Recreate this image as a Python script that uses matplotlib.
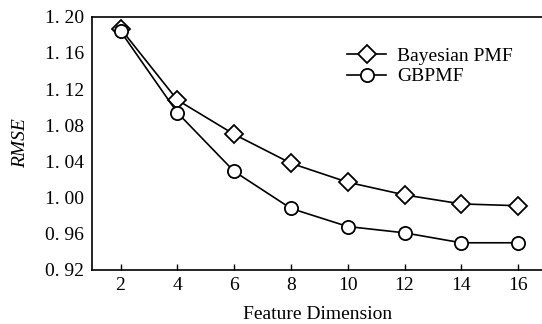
import matplotlib.pyplot as plt
from matplotlib.ticker import FuncFormatter

dims = [2, 4, 6, 8, 10, 12, 14, 16]
bpmf = [1.187, 1.108, 1.070, 1.038, 1.017, 1.003, 0.993, 0.991]
gbpmf = [1.184, 1.094, 1.029, 0.988, 0.968, 0.961, 0.950, 0.950]
yticks = [0.92, 0.96, 1.00, 1.04, 1.08, 1.12, 1.16, 1.20]

plt.rcParams['font.family'] = ['Liberation Serif', 'DejaVu Serif']

fig = plt.figure(figsize=(5.42, 3.24), dpi=100)
ax = fig.add_axes([0.170, 0.167, 0.830, 0.781])

ax.plot(dims, bpmf, color='black', lw=1.2, marker='D', ms=9,
        mfc='white', mec='black', mew=1.3, label='Bayesian PMF')
ax.plot(dims, gbpmf, color='black', lw=1.2, marker='o', ms=9.5,
        mfc='white', mec='black', mew=1.3, label='GBPMF')

ax.set_xlim(1.0, 16.84)
ax.set_ylim(0.92, 1.20)
ax.set_xticks(dims)
ax.set_yticks(yticks)
# labels in the reference look like "1. 20"
ax.yaxis.set_major_formatter(FuncFormatter(lambda v, p: ('%.2f' % v).replace('.', '. ')))
ax.tick_params(axis='x', direction='in', length=4, width=1, labelsize=14, pad=5)
ax.tick_params(axis='y', length=0, labelsize=14, pad=6)
ax.spines['right'].set_visible(False)
for s in ['left', 'bottom', 'top']:
    ax.spines[s].set_linewidth(1.2)

ax.set_xlabel('Feature Dimension', fontsize=14, labelpad=9)
ax.set_ylabel('RMSE', fontsize=14, style='italic', labelpad=11)

ax.legend(loc='upper left', bbox_to_anchor=(0.567, 0.88), frameon=False,
          borderpad=0, borderaxespad=0, fontsize=14, handlelength=2.0,
          handletextpad=0.55, labelspacing=0.15)

fig.savefig('out.png', dpi=100)
